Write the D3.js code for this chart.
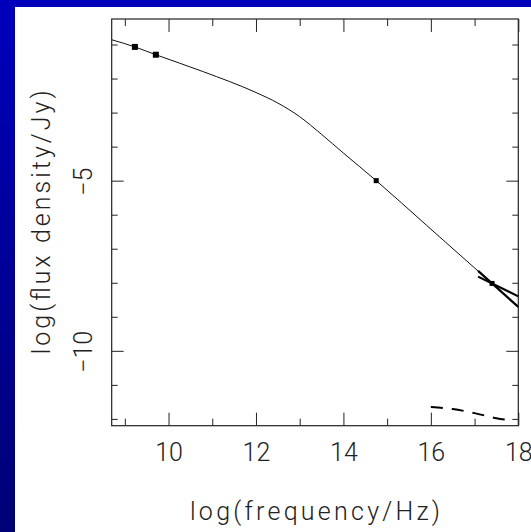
<!DOCTYPE html>
<html>
<head>
<meta charset="utf-8">
<script src="https://cdn.jsdelivr.net/npm/d3@7"></script>
<style>
  html, body { margin: 0; padding: 0; background: #000080; }
  svg { display: block; }
  .lbl { font-family: Roboto, Lato, "Liberation Sans", sans-serif; font-weight: 300; fill: #222; }
</style>
</head>
<body>
<script>
// Spectral energy distribution: observed points, model curve, X-ray bow-tie, high-frequency component
const obsLogNu = [9.23, 9.71, 14.75, 17.40];
const obsLogF  = [-1.07, -1.30, -5.00, -8.02];

const modelLogNu = [8.70, 9.23, 9.71, 10.80, 12.00, 12.50, 13.00, 13.50, 14.00, 14.75, 15.90, 17.40, 18.00];
const modelLogF  = [-0.86, -1.07, -1.30, -1.80, -2.41, -2.72, -3.12, -3.64, -4.19, -5.00, -6.31, -8.02, -8.70];

// X-ray spectral range: two power-law limits crossing at the measured point
const bowUpperNu = [17.08, 18.00];
const bowUpperF  = [-7.82, -8.40];
const bowLowerNu = [17.08, 18.00];
const bowLowerF  = [-7.65, -8.71];

// Dashed component at high frequency
const dashNu = [16.00, 16.50, 17.00, 17.50, 17.75];
const dashF  = [-11.65, -11.71, -11.83, -11.98, -12.03];

const xMajor = [10, 12, 14, 16, 18];
const xMinor = [9, 11, 13, 15, 17];
const yMajor = [-5, -10];
const yMinor = [-1, -2, -3, -4, -6, -7, -8, -9, -11, -12];

const W = 531, H = 532;
const frame = { left: 111.7, right: 518.3, top: 19, bottom: 425.7 };

const svg = d3.select("body").append("svg").attr("width", W).attr("height", H);

// blue border with white page
const defs = svg.append("defs");
const grad = defs.append("linearGradient").attr("id", "bg").attr("x1", 0).attr("y1", 0).attr("x2", 0).attr("y2", 1);
grad.append("stop").attr("offset", 0).attr("stop-color", "#0000bc");
grad.append("stop").attr("offset", 1).attr("stop-color", "#000076");
svg.append("rect").attr("width", W).attr("height", H).attr("fill", "url(#bg)");
svg.append("rect").attr("x", 15).attr("y", 7).attr("width", W - 15).attr("height", H - 7).attr("fill", "#fff");

defs.append("clipPath").attr("id", "plotclip").append("rect")
  .attr("x", frame.left).attr("y", frame.top)
  .attr("width", frame.right - frame.left).attr("height", frame.bottom - frame.top);

const x = d3.scaleLinear().domain([8.7, 18]).range([frame.left, frame.right]);
const y = d3.scaleLinear().domain([-12.2, -0.25]).range([frame.bottom, frame.top]);

const ink = "#222";

function styleAxis(g) {
  g.select(".domain").remove();
  g.selectAll(".tick line").attr("stroke", ink).attr("stroke-width", 1);
}

// inward ticks on all four sides
svg.append("g").attr("transform", `translate(0,${frame.bottom})`)
  .call(d3.axisBottom(x).tickValues(xMajor).tickSize(-13).tickPadding(18).tickFormat(d3.format("d")))
  .call(styleAxis)
  .call(g => g.selectAll("text").attr("class", "lbl").attr("font-size", 25).attr("fill", ink));
svg.append("g").attr("transform", `translate(0,${frame.bottom})`)
  .call(d3.axisBottom(x).tickValues(xMinor).tickSize(-7).tickFormat(""))
  .call(styleAxis);
svg.append("g").attr("transform", `translate(0,${frame.top})`)
  .call(d3.axisTop(x).tickValues(xMajor).tickSize(-13).tickFormat(""))
  .call(styleAxis);
svg.append("g").attr("transform", `translate(0,${frame.top})`)
  .call(d3.axisTop(x).tickValues(xMinor).tickSize(-7).tickFormat(""))
  .call(styleAxis);
svg.append("g").attr("transform", `translate(${frame.left},0)`)
  .call(d3.axisLeft(y).tickValues(yMajor).tickSize(-12).tickFormat(""))
  .call(styleAxis);
svg.append("g").attr("transform", `translate(${frame.left},0)`)
  .call(d3.axisLeft(y).tickValues(yMinor).tickSize(-6).tickFormat(""))
  .call(styleAxis);
svg.append("g").attr("transform", `translate(${frame.right},0)`)
  .call(d3.axisRight(y).tickValues(yMajor).tickSize(-12).tickFormat(""))
  .call(styleAxis);
svg.append("g").attr("transform", `translate(${frame.right},0)`)
  .call(d3.axisRight(y).tickValues(yMinor).tickSize(-6).tickFormat(""))
  .call(styleAxis);

// rotated y tick labels
svg.append("g").selectAll("text").data(yMajor).join("text")
  .attr("class", "lbl").attr("font-size", 25).attr("text-anchor", "middle")
  .attr("transform", d => `translate(92,${y(d) + 1}) rotate(-90)`)
  .text(d => "\u2212" + Math.abs(d));

// frame
svg.append("rect")
  .attr("x", frame.left).attr("y", frame.top)
  .attr("width", frame.right - frame.left).attr("height", frame.bottom - frame.top)
  .attr("fill", "none").attr("stroke", ink).attr("stroke-width", 1.2);

// axis titles
svg.append("text").attr("class", "lbl").attr("font-size", 25).attr("text-anchor", "middle")
  .attr("x", (frame.left + frame.right) / 2).attr("y", 520)
  .attr("textLength", 250).attr("lengthAdjust", "spacing")
  .text("log(frequency/Hz)");
svg.append("text").attr("class", "lbl").attr("font-size", 25).attr("text-anchor", "middle")
  .attr("transform", `translate(50,${(frame.top + frame.bottom) / 2}) rotate(-90)`)
  .attr("textLength", 264).attr("lengthAdjust", "spacing")
  .text("log(flux density/Jy)");

const plot = svg.append("g").attr("clip-path", "url(#plotclip)");
const line = d3.line().x(d => x(d[0])).y(d => y(d[1]));

plot.append("path")
  .datum(d3.zip(modelLogNu, modelLogF))
  .attr("d", line.curve(d3.curveMonotoneX))
  .attr("fill", "none").attr("stroke", "#111").attr("stroke-width", 1);

const straight = d3.line().x(d => x(d[0])).y(d => y(d[1]));
[[bowUpperNu, bowUpperF], [bowLowerNu, bowLowerF]].forEach(([nu, f]) => {
  plot.append("path").datum(d3.zip(nu, f)).attr("d", straight)
    .attr("fill", "none").attr("stroke", "#000").attr("stroke-width", 2.2);
});

plot.append("path")
  .datum(d3.zip(dashNu, dashF))
  .attr("d", straight.curve(d3.curveMonotoneX))
  .attr("fill", "none").attr("stroke", "#000").attr("stroke-width", 2)
  .attr("stroke-dasharray", "12,9");

const sizes = [6, 6, 5, 5];
plot.selectAll("rect.pt").data(d3.zip(obsLogNu, obsLogF)).join("rect")
  .attr("class", "pt")
  .attr("x", (d, i) => x(d[0]) - sizes[i] / 2).attr("y", (d, i) => y(d[1]) - sizes[i] / 2)
  .attr("width", (d, i) => sizes[i]).attr("height", (d, i) => sizes[i])
  .attr("fill", "#000");
</script>
</body>
</html>
